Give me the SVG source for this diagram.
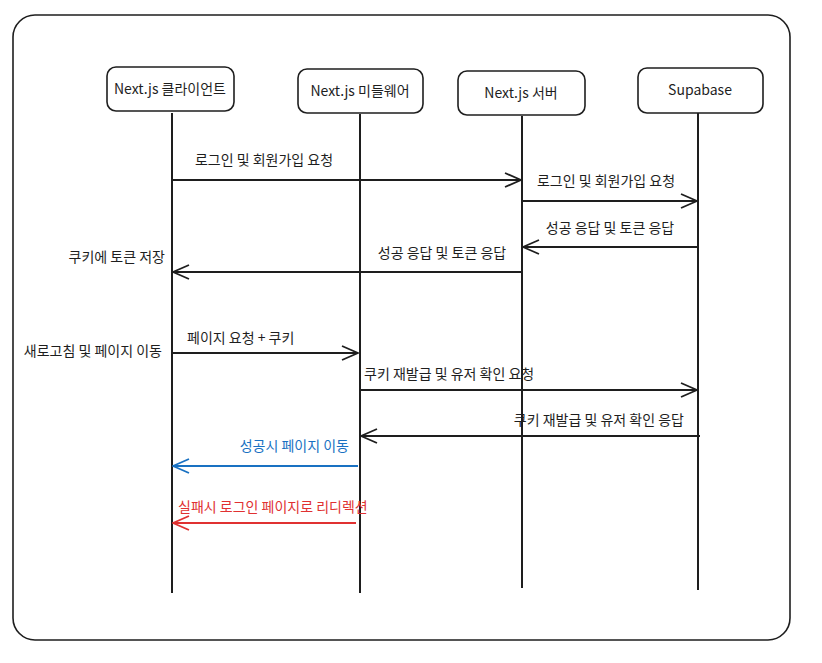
<svg xmlns="http://www.w3.org/2000/svg" width="822" height="663" viewBox="0 0 822 663">
<style>
text{font-family:"Noto Sans CJK KR","Noto Sans",sans-serif;font-size:14px;fill:#1e1e1e}
.box{fill:#fff;stroke:#1e1e1e;stroke-width:1.6}
.life{stroke:#1e1e1e;stroke-width:2;fill:none}
.msg{stroke:#1e1e1e;stroke-width:1.8;fill:none}
.blue{stroke:#1971c2}
.red{stroke:#e03131}
</style>
<defs>
<marker id="ah" viewBox="0 0 20 20" refX="19" refY="10" markerWidth="20" markerHeight="20" markerUnits="userSpaceOnUse" orient="auto">
<path d="M3 3 L19 10 L3 17" fill="none" stroke="#1e1e1e" stroke-width="1.8"/>
</marker>
<marker id="ahb" viewBox="0 0 20 20" refX="19" refY="10" markerWidth="20" markerHeight="20" markerUnits="userSpaceOnUse" orient="auto">
<path d="M3 3 L19 10 L3 17" fill="none" stroke="#1971c2" stroke-width="1.8"/>
</marker>
<marker id="ahr" viewBox="0 0 20 20" refX="19" refY="10" markerWidth="20" markerHeight="20" markerUnits="userSpaceOnUse" orient="auto">
<path d="M3 3 L19 10 L3 17" fill="none" stroke="#e03131" stroke-width="1.8"/>
</marker>
</defs>
<rect x="13" y="15" width="777" height="625" rx="22" fill="#fff" stroke="#1e1e1e" stroke-width="1.6"/>
<g id="lifelines">
<line class="life" x1="172" y1="113" x2="172" y2="593"/>
<line class="life" x1="360" y1="114" x2="360" y2="593"/>
<line class="life" x1="522" y1="116" x2="522" y2="588"/>
<line class="life" x1="698" y1="112" x2="698" y2="590"/>
</g>
<g id="client"><rect class="box" x="107" y="67" width="127" height="44" rx="9"/><text x="170" y="94" text-anchor="middle">Next.js 클라이언트</text></g>
<g id="middleware"><rect class="box" x="298" y="69" width="125" height="44" rx="9"/><text x="360" y="96" text-anchor="middle">Next.js 미들웨어</text></g>
<g id="server"><rect class="box" x="458" y="71" width="127" height="44" rx="9"/><text x="521" y="98" text-anchor="middle">Next.js 서버</text></g>
<g id="supabase"><rect class="box" x="638" y="68" width="125" height="45" rx="9"/><text x="700" y="95" text-anchor="middle">Supabase</text></g>
<g id="connectors">
<line class="msg" x1="172" y1="180" x2="521" y2="180" marker-end="url(#ah)"/>
<line class="msg" x1="522" y1="201" x2="697" y2="201" marker-end="url(#ah)"/>
<line class="msg" x1="698" y1="247" x2="523" y2="247" marker-end="url(#ah)"/>
<line class="msg" x1="522" y1="272" x2="173" y2="272" marker-end="url(#ah)"/>
<line class="msg" x1="172" y1="353" x2="358" y2="353" marker-end="url(#ah)"/>
<line class="msg" x1="360" y1="390" x2="697" y2="390" marker-end="url(#ah)"/>
<line class="msg" x1="700" y1="436" x2="361" y2="436" marker-end="url(#ah)"/>
<line class="msg blue" x1="358" y1="466" x2="173" y2="466" marker-end="url(#ahb)"/>
<line class="msg red" x1="356" y1="523" x2="173" y2="523" marker-end="url(#ahr)"/>
</g>
<g id="labels">
<text x="264" y="165" text-anchor="middle">로그인 및 회원가입 요청</text>
<text x="606" y="186" text-anchor="middle">로그인 및 회원가입 요청</text>
<text x="610" y="233" text-anchor="middle">성공 응답 및 토큰 응답</text>
<text x="442" y="258" text-anchor="middle">성공 응답 및 토큰 응답</text>
<text x="165" y="262" text-anchor="end">쿠키에 토큰 저장</text>
<text x="162" y="356" text-anchor="end">새로고침 및 페이지 이동</text>
<text x="187" y="343">페이지 요청 + 쿠키</text>
<text x="364" y="379">쿠키 재발급 및 유저 확인 요청</text>
<text x="684" y="425" text-anchor="end">쿠키 재발급 및 유저 확인 응답</text>
<text x="349" y="451" text-anchor="end" style="fill:#1971c2">성공시 페이지 이동</text>
<text x="178" y="512" style="fill:#e03131">실패시 로그인 페이지로 리디렉션</text>
</g>
</svg>
